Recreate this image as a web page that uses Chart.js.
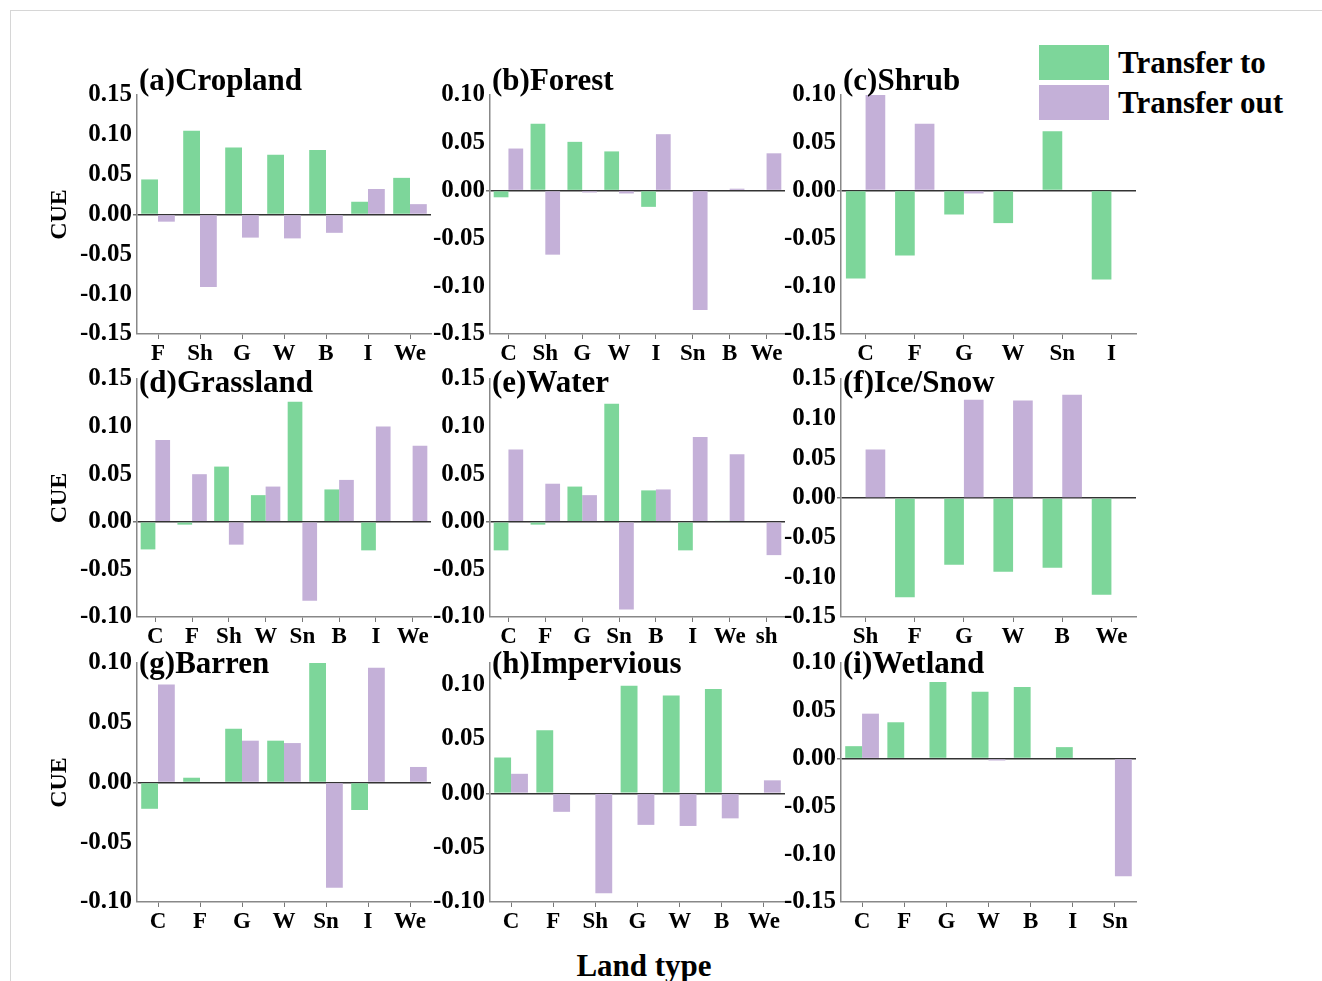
<!DOCTYPE html>
<html lang="en">
<head>
<meta charset="UTF-8">
<title>CUE of land type transfers</title>
<script src="https://cdn.jsdelivr.net/npm/chart.js@4.4.1/dist/chart.umd.min.js"></script>
<style>
  body { margin: 0; background: #fff; width: 1322px; height: 981px; overflow: hidden; position: relative;
         font-family: 'Liberation Serif', 'Times New Roman', serif; }
  .frame { position: absolute; left: 10px; top: 10px; right: 0; bottom: 0;
           border-left: 1px solid #d6d6d6; border-top: 1px solid #d6d6d6; }
  canvas { position: absolute; }
  .legend-box { position: absolute; left: 1039px; width: 70px; height: 35px; }
  .legend-text { position: absolute; left: 1118px; font-weight: bold; font-size: 31px; line-height: 35px; color: #000; }
  .xtitle { position: absolute; left: 0; width: 1288px; top: 948px; text-align: center;
            font-weight: bold; font-size: 31px; color: #000; }
</style>
</head>
<body>
<div class="frame"></div>
<div class="legend-box" id="lg-to" style="top:45px"></div>
<div class="legend-text" style="top:45px">Transfer to</div>
<div class="legend-box" id="lg-out" style="top:85px"></div>
<div class="legend-text" style="top:85px">Transfer out</div>
<div class="xtitle">Land type</div>

<script>
  const TO_COLOR = '#7dd69a';
  const OUT_COLOR = '#c4b0d8';

  // (a) Cropland
  const cropCats = ['F', 'Sh', 'G', 'W', 'B', 'I', 'We'];
  const cropTo   = [0.044, 0.105, 0.084, 0.075, 0.081, 0.016, 0.046];
  const cropOut  = [-0.009, -0.091, -0.029, -0.030, -0.023, 0.032, 0.013];

  // (b) Forest
  const forestCats = ['C', 'Sh', 'G', 'W', 'I', 'Sn', 'B', 'We'];
  const forestTo   = [-0.007, 0.070, 0.051, 0.041, -0.017, 0, 0, 0];
  const forestOut  = [0.044, -0.067, -0.002, -0.003, 0.059, -0.125, 0.002, 0.039];

  // (c) Shrub
  const shrubCats = ['C', 'F', 'G', 'W', 'Sn', 'I'];
  const shrubTo   = [-0.092, -0.068, -0.025, -0.034, 0.062, -0.093];
  const shrubOut  = [0.100, 0.070, -0.003, 0, 0, 0];

  // (d) Grassland
  const grassCats = ['C', 'F', 'Sh', 'W', 'Sn', 'B', 'I', 'We'];
  const grassTo   = [-0.029, -0.003, 0.058, 0.028, 0.126, 0.034, -0.030, 0];
  const grassOut  = [0.086, 0.050, -0.024, 0.037, -0.083, 0.044, 0.100, 0.080];

  // (e) Water
  const waterCats = ['C', 'F', 'G', 'Sn', 'B', 'I', 'We', 'sh'];
  const waterTo   = [-0.030, -0.003, 0.037, 0.124, 0.033, -0.030, 0.001, 0];
  const waterOut  = [0.076, 0.040, 0.028, -0.092, 0.034, 0.089, 0.071, -0.035];

  // (f) Ice/Snow
  const iceCats = ['Sh', 'F', 'G', 'W', 'B', 'We'];
  const iceTo   = [0, -0.125, -0.084, -0.093, -0.088, -0.122];
  const iceOut  = [0.061, 0, 0.124, 0.123, 0.130, 0];

  // (g) Barren
  const barrenCats = ['C', 'F', 'G', 'W', 'Sn', 'I', 'We'];
  const barrenTo   = [-0.022, 0.004, 0.045, 0.035, 0.100, -0.023, 0];
  const barrenOut  = [0.082, 0, 0.035, 0.033, -0.088, 0.096, 0.013];

  // (h) Impervious
  const impervCats = ['C', 'F', 'Sh', 'G', 'W', 'B', 'We'];
  const impervTo   = [0.033, 0.058, 0, 0.099, 0.090, 0.096, 0];
  const impervOut  = [0.018, -0.017, -0.092, -0.029, -0.030, -0.023, 0.012];

  // (i) Wetland
  const wetCats = ['C', 'F', 'G', 'W', 'B', 'I', 'Sn'];
  const wetTo   = [0.013, 0.038, 0.080, 0.070, 0.075, 0.012, 0];
  const wetOut  = [0.047, 0, 0, -0.002, 0, 0, -0.123];

  const titles = ['(a)Cropland', '(b)Forest', '(c)Shrub', '(d)Grassland', '(e)Water',
                  '(f)Ice/Snow', '(g)Barren', '(h)Impervious', '(i)Wetland'];
  const yMin = [-0.15, -0.15, -0.15, -0.10, -0.10, -0.15, -0.10, -0.10, -0.15];
  const yMax = [0.15, 0.10, 0.10, 0.15, 0.15, 0.15, 0.10, 0.12, 0.10];
  const yStep = 0.05;

  const panelCats = [cropCats, forestCats, shrubCats, grassCats, waterCats, iceCats, barrenCats, impervCats, wetCats];
  const panelTo   = [cropTo, forestTo, shrubTo, grassTo, waterTo, iceTo, barrenTo, impervTo, wetTo];
  const panelOut  = [cropOut, forestOut, shrubOut, grassOut, waterOut, iceOut, barrenOut, impervOut, wetOut];

  // plot area placement (page pixels)
  const colLeft = [137, 490, 841];
  const colRight = [431, 785, 1136];
  const rowTop = [95, 379, 663];
  const rowBottom = [334, 617, 902];
  const titleDy = [-5, 13, 10];

  const PAD_TOP = 45, Y_W = 100, X_H = 40, PAD_RIGHT = 8;

  document.getElementById('lg-to').style.background = TO_COLOR;
  document.getElementById('lg-out').style.background = OUT_COLOR;

  const panelTitle = {
    id: 'panelTitle',
    afterDraw(chart, args, opts) {
      const { ctx, chartArea } = chart;
      ctx.save();
      ctx.font = 'bold 31px "Liberation Serif"';
      ctx.fillStyle = '#000';
      ctx.textAlign = 'left';
      ctx.textBaseline = 'alphabetic';
      ctx.fillText(opts.text, chartArea.left + 2, chartArea.top + opts.dy);
      ctx.restore();
    }
  };

  const isZero = ctx => ctx.tick && Math.abs(ctx.tick.value) < 1e-9;

  for (let i = 0; i < 9; i++) {
    const row = Math.floor(i / 3), col = i % 3;
    const l = colLeft[col], r = colRight[col], t = rowTop[row], b = rowBottom[row];
    const w = (r - l) + Y_W + PAD_RIGHT;
    const h = (b - t) + PAD_TOP + X_H;

    const canvas = document.createElement('canvas');
    canvas.width = w;
    canvas.height = h;
    canvas.style.left = (l - Y_W) + 'px';
    canvas.style.top = (t - PAD_TOP) + 'px';
    canvas.style.width = w + 'px';
    canvas.style.height = h + 'px';
    document.body.appendChild(canvas);

    new Chart(canvas, {
      type: 'bar',
      data: {
        labels: panelCats[i],
        datasets: [
          { label: 'Transfer to', data: panelTo[i], backgroundColor: TO_COLOR, borderWidth: 0 },
          { label: 'Transfer out', data: panelOut[i], backgroundColor: OUT_COLOR, borderWidth: 0 }
        ]
      },
      options: {
        responsive: false,
        animation: false,
        devicePixelRatio: 1,
        categoryPercentage: 0.8,
        barPercentage: 1.0,
        layout: { padding: { top: PAD_TOP, right: PAD_RIGHT, left: 0, bottom: 0 } },
        plugins: {
          legend: { display: false },
          tooltip: { enabled: false },
          panelTitle: { text: titles[i], dy: titleDy[row] }
        },
        scales: {
          x: {
            offset: true,
            grid: { offset: false, drawOnChartArea: false, drawTicks: true, tickLength: 5, tickColor: '#777' },
            border: { display: true, color: '#888', width: 1.5 },
            ticks: {
              color: '#000', padding: 1, maxRotation: 0, autoSkip: false,
              font: { family: 'Liberation Serif', weight: 'bold', size: 23 }
            },
            afterFit(scale) { scale.height = X_H; }
          },
          y: {
            min: yMin[i],
            max: yMax[i],
            ticks: {
              color: '#000', padding: 1,
              font: { family: 'Liberation Serif', weight: 'bold', size: 25 },
              callback: v => v.toFixed(2)
            },
            afterBuildTicks(scale) {
              const ticks = [];
              const k0 = Math.ceil(scale.min / yStep - 1e-9), k1 = Math.floor(scale.max / yStep + 1e-9);
              for (let k = k0; k <= k1; k++) ticks.push({ value: +(k * yStep).toFixed(4) });
              scale.ticks = ticks;
            },
            grid: {
              drawTicks: true, tickLength: 4, tickColor: '#777',
              color: ctx => isZero(ctx) ? '#333' : 'rgba(0,0,0,0)',
              lineWidth: ctx => isZero(ctx) ? 1.5 : 0
            },
            border: { display: true, color: '#888', width: 1.5 },
            title: {
              display: col === 0,
              text: 'CUE',
              color: '#000',
              padding: 8,
              font: { family: 'Liberation Serif', weight: 'bold', size: 24 }
            },
            afterFit(scale) { scale.width = Y_W; }
          }
        }
      },
      plugins: [panelTitle]
    });
  }
</script>
</body>
</html>
